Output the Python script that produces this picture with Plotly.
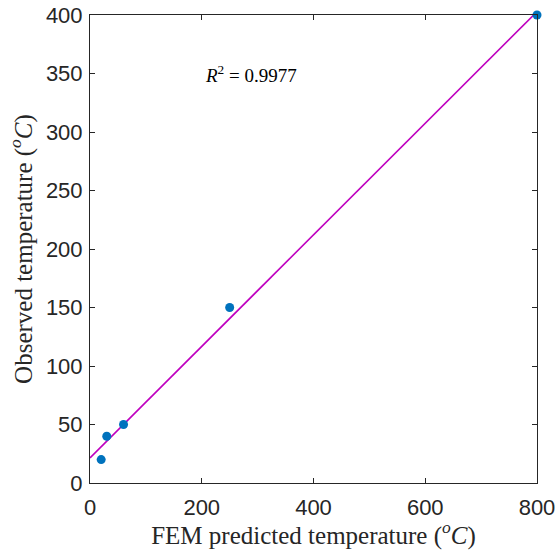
import numpy as np
import plotly.graph_objects as go

# FEM predicted vs observed temperatures (°C)
fem_predicted = [20, 30, 60, 250, 800]
observed = [20, 40, 50, 150, 400]

x_ticks = [0, 200, 400, 600, 800]
y_ticks = [0, 50, 100, 150, 200, 250, 300, 350, 400]

# least-squares linear fit and coefficient of determination
xa = np.array(fem_predicted, dtype=float)
ya = np.array(observed, dtype=float)
slope, intercept = np.polyfit(xa, ya, 1)
r2 = np.corrcoef(xa, ya)[0, 1] ** 2
fit_x = np.array([0.0, 800.0])
fit_y = slope * fit_x + intercept

axis_color = "#262626"
tick_font = dict(family="Liberation Sans, Arial, sans-serif", size=22, color=axis_color)
title_font = dict(family="Liberation Serif, Times New Roman, serif", size=25, color=axis_color)

fig = go.Figure()
fig.add_trace(go.Scatter(
    x=fit_x, y=fit_y, mode="lines",
    line=dict(color="#BF00BF", width=1.6),
    showlegend=False, hoverinfo="skip",
))
fig.add_trace(go.Scatter(
    x=fem_predicted, y=observed, mode="markers",
    marker=dict(color="#0072BD", size=9),
    cliponaxis=False, showlegend=False,
))

fig.add_annotation(
    x=288, y=350, xref="x", yref="y", showarrow=False,
    text=f"<i>R</i><sup>2</sup>&nbsp;=&nbsp;{r2:.4f}",
    font=dict(family="Liberation Serif, Times New Roman, serif", size=19, color="black"),
)

fig.update_xaxes(
    range=[0, 800], tickvals=x_ticks, ticktext=[str(v) for v in x_ticks],
    ticks="inside", ticklen=5, tickcolor=axis_color, tickwidth=1,
    showline=True, linecolor=axis_color, linewidth=1, mirror="allticks",
    showgrid=False, zeroline=False, tickfont=tick_font, automargin=False,
    ticklabelstandoff=5,
    title=dict(text="FEM predicted temperature (<i><sup>o</sup>C</i>)", font=title_font, standoff=1),
)
fig.update_yaxes(
    range=[0, 400], tickvals=y_ticks, ticktext=[str(v) for v in y_ticks],
    ticks="inside", ticklen=5, tickcolor=axis_color, tickwidth=1,
    showline=True, linecolor=axis_color, linewidth=1, mirror="allticks",
    showgrid=False, zeroline=False, tickfont=tick_font, automargin=False,
    ticklabelstandoff=2,
    title=dict(text="Observed temperature (<i><sup>o</sup>C</i>)", font=title_font, standoff=6),
)

fig.update_layout(
    width=560, height=550,
    margin=dict(l=90, r=23, t=15, b=67),
    plot_bgcolor="white", paper_bgcolor="white",
)

fig.write_html("out.html")
